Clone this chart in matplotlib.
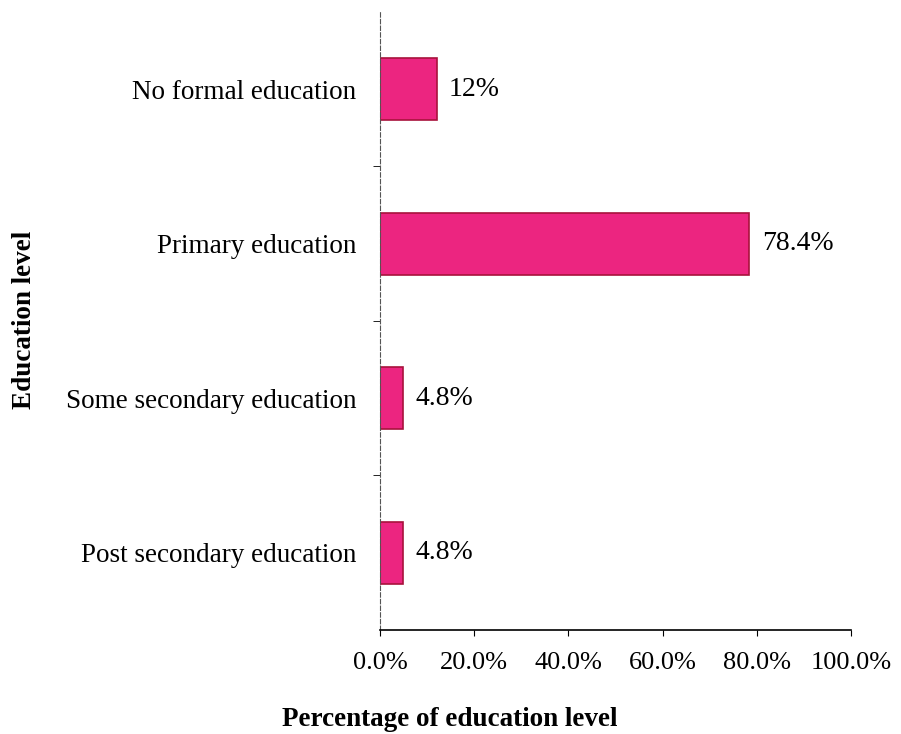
import matplotlib.pyplot as plt
from matplotlib.ticker import FuncFormatter, FixedLocator

categories = ["No formal education", "Primary education",
              "Some secondary education", "Post secondary education"]
values = [12, 78.4, 4.8, 4.8]
value_labels = ["12%", "78.4%", "4.8%", "4.8%"]
xticks = [0, 20, 40, 60, 80, 100]

plt.rcParams['font.family'] = ['Liberation Serif', 'DejaVu Serif']

fig = plt.figure(figsize=(9.01, 7.34), dpi=100)
ax = fig.add_axes([0.4218, 0.1417, 0.5227, 0.842])

ypos = list(range(len(categories)))
ax.barh(ypos, values, height=0.4, color='#EC2580', edgecolor='#A8123C', linewidth=1.2)

for y, v, lab in zip(ypos, values, value_labels):
    ax.annotate(lab, (v, y), xytext=(9, 0), textcoords='offset points',
                va='center', ha='left', fontsize=20)

ax.set_xlim(0, 100)
ax.set_ylim(len(categories) - 0.5, -0.5)
ax.set_xticks(xticks)
ax.xaxis.set_major_formatter(FuncFormatter(lambda x, p: f"{x:.1f}%"))
ax.tick_params(axis='x', labelsize=19, direction='out', length=4, pad=12)

ax.set_yticks(ypos)
ax.set_yticklabels(categories, fontsize=19.5)
ax.tick_params(axis='y', which='major', length=0, pad=17)
ax.yaxis.set_minor_locator(FixedLocator([0.5, 1.5, 2.5]))
ax.tick_params(axis='y', which='minor', length=5, direction='out')

for s in ['top', 'right']:
    ax.spines[s].set_visible(False)
ax.spines['left'].set_linestyle((0, (4, 2)))
ax.spines['left'].set_color('#555555')
ax.spines['left'].set_linewidth(0.8)
ax.spines['bottom'].set_linewidth(1.2)

fig.text(450 / 901, 1 - 719 / 734, "Percentage of education level",
         ha='center', va='center', fontsize=19.5, fontweight='bold')
fig.text(25 / 901, 1 - 320 / 734, "Education level", rotation=90,
         ha='center', va='center', fontsize=19.5, fontweight='bold')

fig.savefig("out.png", dpi=100)
